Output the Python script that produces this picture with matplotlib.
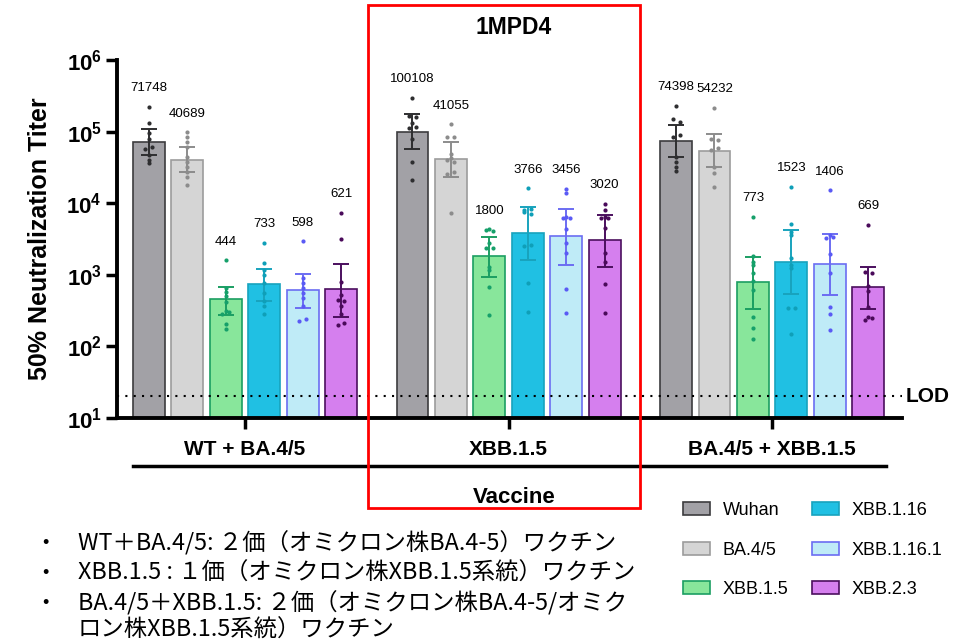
import numpy as np
import matplotlib.pyplot as plt
from matplotlib.patches import Patch, Rectangle
from matplotlib.lines import Line2D
from matplotlib.ticker import FixedLocator, FuncFormatter, NullLocator

plt.rcParams['font.family'] = ['Liberation Sans', 'DejaVu Sans']
plt.rcParams['mathtext.default'] = 'regular'
JP = ['Noto Sans CJK JP', 'DejaVu Sans']

vaccines = ['WT + BA.4/5', 'XBB.1.5', 'BA.4/5 + XBB.1.5']
variants = ['Wuhan', 'BA.4/5', 'XBB.1.5', 'XBB.1.16', 'XBB.1.16.1', 'XBB.2.3']

# geometric mean titers (bar heights)
gmt = [
    [71748, 40689, 444, 733, 598, 621],
    [100108, 41055, 1800, 3766, 3456, 3020],
    [74398, 54232, 773, 1523, 1406, 669],
]

# error bar ends, log10 titer
err_lo = [
    [4.67, 4.43, 2.44, 2.64, 2.53, 2.415],
    [4.76, 4.37, 2.97, 3.20, 3.14, 3.11],
    [4.65, 4.51, 2.52, 2.73, 2.72, 2.52],
]
err_hi = [
    [5.03, 4.79, 2.83, 3.085, 3.007, 3.155],
    [5.24, 4.85, 3.53, 3.95, 3.92, 3.835],
    [5.09, 4.96, 3.25, 3.63, 3.57, 3.11],
]

# individual sera, log10 titer
dots_wt_ba45 = [
    [5.35, 5.12, 4.98, 4.90, 4.78, 4.76, 4.67, 4.60, 4.56],
    [4.99, 4.93, 4.86, 4.79, 4.65, 4.58, 4.51, 4.44, 4.37, 4.25],
    [3.20, 2.81, 2.76, 2.70, 2.62, 2.50, 2.48, 2.45, 2.31, 2.24],
    [3.45, 3.16, 3.07, 3.00, 2.88, 2.74, 2.63, 2.56, 2.45],
    [3.47, 2.95, 2.89, 2.81, 2.74, 2.67, 2.56, 2.38, 2.35],
    [3.87, 3.50, 2.895, 2.72, 2.65, 2.63, 2.56, 2.45, 2.32, 2.30],
]
dots_xbb15 = [
    [5.47, 5.22, 5.21, 5.12, 5.07, 5.05, 4.89, 4.57, 4.32],
    [5.10, 4.93, 4.92, 4.69, 4.63, 4.61, 4.58, 4.43, 4.41, 3.86],
    [3.635, 3.63, 3.61, 3.45, 3.38, 3.37, 3.11, 3.07, 2.825, 2.44],
    [4.21, 3.92, 3.905, 3.88, 3.85, 3.42, 3.40, 2.88, 2.485],
    [4.20, 4.14, 3.81, 3.79, 3.79, 3.635, 3.44, 3.30, 2.80, 2.47],
    [3.99, 3.905, 3.81, 3.80, 3.79, 3.65, 3.30, 3.18, 2.87, 2.46],
]
dots_ba45_xbb15 = [
    [5.36, 5.17, 5.14, 4.95, 4.93, 4.65, 4.58, 4.51, 4.45],
    [5.33, 4.89, 4.88, 4.77, 4.74, 4.51, 4.42, 4.22],
    [3.81, 3.26, 3.18, 3.14, 3.02, 2.91, 2.79, 2.41, 2.26, 2.11],
    [4.23, 3.705, 3.60, 3.56, 3.23, 3.14, 3.09, 2.53, 2.53, 2.17],
    [4.18, 3.55, 3.53, 3.51, 3.29, 3.02, 2.555, 2.45, 2.23],
    [3.70, 3.04, 3.02, 2.84, 2.78, 2.555, 2.41, 2.40, 2.37],
]
dots = [dots_wt_ba45, dots_xbb15, dots_ba45_xbb15]
lod = 20

face_colors = ['#a2a1a6', '#d5d5d5', '#88e69b', '#20c0e3', '#bfebf7', '#d57fee']
edge_colors = ['#3c3c3e', '#9c9c9c', '#1b9e62', '#18a3bd', '#6b6df2', '#4b0f5e']
dot_colors = ['#2e2e30', '#8c8c8c', '#16a06a', '#0f9fb8', '#5a5af5', '#4a0a5a']

notes = [
    'WT＋BA.4/5: ２価（オミクロン株BA.4-5）ワクチン',
    'XBB.1.5 : １価（オミクロン株XBB.1.5系統）ワクチン',
    'BA.4/5＋XBB.1.5: ２価（オミクロン株BA.4-5/オミク',
    'ロン株XBB.1.5系統）ワクチン',
]

fig = plt.figure(figsize=(9.59, 6.4), dpi=100)
ax = fig.add_axes([117 / 959, 1 - 418 / 640, 785 / 959, 358 / 640])

group_step = 6.86
width = 0.83
for g in range(3):
    for i in range(6):
        x = g * group_step + i
        ax.bar(x, gmt[g][i], width=width, bottom=10, color=face_colors[i],
               edgecolor=edge_colors[i], linewidth=1.2, zorder=2)
        lo, hi = 10 ** err_lo[g][i], 10 ** err_hi[g][i]
        ax.errorbar(x, gmt[g][i], yerr=[[gmt[g][i] - lo], [hi - gmt[g][i]]],
                    fmt='none', ecolor=edge_colors[i] if i > 1 else dot_colors[i],
                    elinewidth=1.4, capsize=6, capthick=1.4, zorder=3)
        vals = np.array(dots[g][i])
        # small side shift for dots sitting on top of each other
        offs = np.zeros(len(vals))
        order = np.argsort(vals)
        side = 1
        for a, b in zip(order[:-1], order[1:]):
            if abs(vals[b] - vals[a]) < 0.035 and offs[a] == 0:
                offs[b] = 0.09 * side
                offs[a] = -0.09 * side
                side = -side
        ax.scatter(x + offs, 10 ** vals, s=9, color=dot_colors[i], zorder=4,
                   linewidths=0)
        ax.annotate(str(gmt[g][i]), (x, 10 ** vals.max()), xytext=(0, 9),
                    textcoords='offset points', ha='center', va='bottom',
                    fontsize=9.5)

ax.set_yscale('log')
ax.set_ylim(10, 1e6)
ax.set_xlim(-0.83, 19.6)
ax.yaxis.set_major_locator(FixedLocator([10 ** k for k in range(1, 7)]))
ax.yaxis.set_minor_locator(NullLocator())
ax.yaxis.set_major_formatter(FuncFormatter(lambda v, _: r'$10^{%d}$' % round(np.log10(v))))
for lab in ax.get_yticklabels():
    lab.set_fontweight('bold')
ax.tick_params(axis='y', labelsize=16, width=2.5, length=8, pad=3)
ax.set_xticks([g * group_step + 2.5 for g in range(3)])
ax.set_xticklabels(vaccines, fontsize=15, fontweight='bold')
ax.tick_params(axis='x', width=2.5, length=8, pad=8)
for s in ['top', 'right']:
    ax.spines[s].set_visible(False)
for s in ['left', 'bottom']:
    ax.spines[s].set_linewidth(2.8)
ax.set_ylabel('50% Neutralization Titer', fontsize=18, fontweight='bold', labelpad=10)

ax.axhline(lod, color='black', linestyle=(0, (1, 3)), linewidth=1.5, zorder=5,
           clip_on=False, xmax=1.0)
ax.text(1.004, lod, 'LOD', transform=ax.get_yaxis_transform(), ha='left',
        va='center', fontsize=15, fontweight='bold')

ax.add_line(Line2D([0.02, 0.98], [-0.134, -0.134], transform=ax.transAxes,
                   color='black', linewidth=2.5, clip_on=False))
ax.text(0.506, -0.222, 'Vaccine', transform=ax.transAxes, ha='center',
        va='center', fontsize=16, fontweight='bold')

fig.add_artist(Rectangle((368 / 959, 1 - 508 / 640), 272 / 959, 503 / 640,
                         transform=fig.transFigure, fill=False,
                         edgecolor='#ff0000', linewidth=2))
fig.text(514 / 959, 1 - 27 / 640, '1MPD4', ha='center', va='center',
         fontsize=16.5, fontweight='bold')

handles = [Patch(facecolor=face_colors[i], edgecolor=edge_colors[i], linewidth=1.2)
           for i in range(6)]
fig.legend(handles, variants, ncol=2, loc='upper left',
           bbox_to_anchor=(683 / 959, 1 - 502 / 640), frameon=False,
           fontsize=13, handlelength=1.5, handleheight=0.75,
           labelspacing=1.25, columnspacing=1.3, handletextpad=0.7,
           borderaxespad=0, borderpad=0)

for k, (yy, line) in enumerate(zip([543, 573, 603, 630], notes)):
    if k < 3:
        fig.text(45 / 959, 1 - yy / 640, '•', ha='center', va='center',
                 fontsize=13)
    fig.text(78 / 959, 1 - yy / 640, line, ha='left', va='center', fontsize=16.8,
             family=JP)

fig.savefig('out.png', dpi=100)
